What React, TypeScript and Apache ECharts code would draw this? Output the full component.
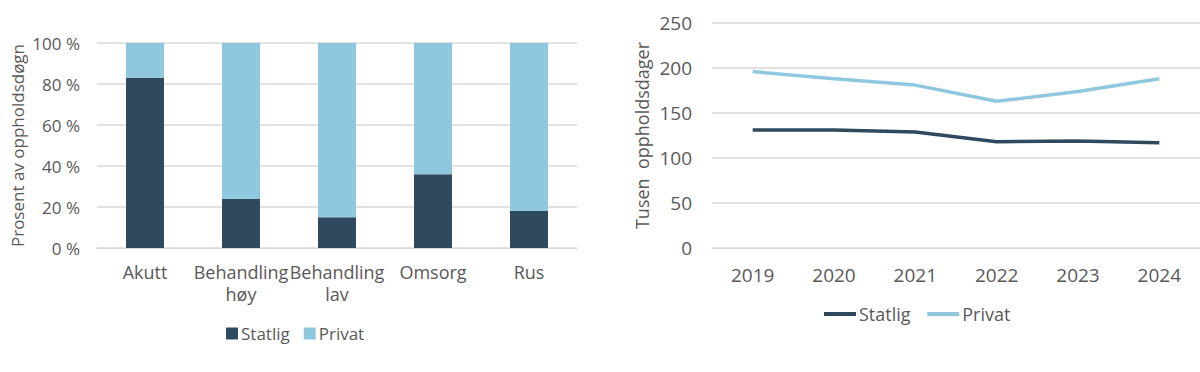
import React, { useEffect, useRef } from "react";
import * as echarts from "echarts";

const barCategories = ["Akutt", "Behandling\nhøy", "Behandling\nlav", "Omsorg", "Rus"];
const barStatlig = [83, 24, 15, 36, 18];
const barPrivat = [17, 76, 85, 64, 82];

const years = ["2019", "2020", "2021", "2022", "2023", "2024"];
const lineStatlig = [131, 131, 129, 118, 119, 117];
const linePrivat = [196, 188, 181, 163, 174, 188];

const DARK = "#2F4A5E";
const LIGHT = "#8FC8DE";
const TEXT = "#595959";
const GRID = "#D9D9D9";
const FONT = "Open Sans";

export default function App() {
  const ref = useRef<HTMLDivElement>(null);
  useEffect(() => {
    const chart = echarts.init(ref.current!, null, { renderer: "svg" });
    const lbl = (size: number) => ({ color: TEXT, fontFamily: FONT, fontSize: size });
    chart.setOption({
      animation: false,
      textStyle: { fontFamily: FONT, color: TEXT },
      grid: [
        { left: 97, right: 623, top: 43, bottom: 124 },
        { left: 712, right: -5, top: 23, bottom: 124 },
      ],
      legend: [
        {
          data: [{ name: "Statlig" }, { name: "Privat" }],
          left: 221,
          top: 320,
          itemWidth: 12,
          itemHeight: 12,
          itemGap: 14,
          icon: "rect",
          textStyle: { ...lbl(17), padding: [0, 0, 0, -2] },
          selectedMode: false,
        },
        {
          data: [{ name: "Statlig " }, { name: "Privat " }],
          left: 819,
          top: 300,
          itemWidth: 32,
          itemHeight: 4,
          itemGap: 12,
          icon: "rect",
          textStyle: { ...lbl(18), padding: [0, 0, 0, -2] },
          selectedMode: false,
        },
      ],
      xAxis: [
        {
          type: "category",
          gridIndex: 0,
          data: barCategories,
          axisLine: { show: true, lineStyle: { color: GRID } },
          axisTick: { show: false },
          axisLabel: { ...lbl(18), margin: 13, lineHeight: 22, interval: 0 },
        },
        {
          type: "category",
          gridIndex: 1,
          data: years,
          boundaryGap: true,
          axisLine: { show: true, lineStyle: { color: GRID } },
          axisTick: { show: false },
          axisLabel: { ...lbl(19), margin: 17 },
        },
      ],
      yAxis: [
        {
          type: "value",
          gridIndex: 0,
          min: 0,
          max: 100,
          interval: 20,
          name: "Prosent av oppholdsdøgn",
          nameLocation: "middle",
          nameGap: 71,
          nameTextStyle: lbl(17),
          axisLabel: { ...lbl(17), margin: 17, formatter: "{value} %" },
          splitLine: { lineStyle: { color: GRID, width: 1.5 } },
          axisLine: { show: false },
          axisTick: { show: false },
        },
        {
          type: "value",
          gridIndex: 1,
          min: 0,
          max: 250,
          interval: 50,
          name: "Tusen  oppholdsdager",
          nameLocation: "middle",
          nameGap: 61,
          nameTextStyle: lbl(18),
          axisLabel: { ...lbl(19), margin: 20 },
          splitLine: { lineStyle: { color: GRID, width: 1.5 } },
          axisLine: { show: false },
          axisTick: { show: false },
        },
      ],
      series: [
        {
          name: "Statlig",
          type: "bar",
          stack: "a",
          xAxisIndex: 0,
          yAxisIndex: 0,
          data: barStatlig,
          barWidth: 38,
          itemStyle: { color: DARK },
        },
        {
          name: "Privat",
          type: "bar",
          stack: "a",
          xAxisIndex: 0,
          yAxisIndex: 0,
          data: barPrivat,
          barWidth: 38,
          itemStyle: { color: LIGHT },
        },
        {
          name: "Statlig ",
          type: "line",
          xAxisIndex: 1,
          yAxisIndex: 1,
          data: lineStatlig,
          symbol: "none",
          lineStyle: { color: DARK, width: 3.5 },
          itemStyle: { color: DARK },
        },
        {
          name: "Privat ",
          type: "line",
          xAxisIndex: 1,
          yAxisIndex: 1,
          data: linePrivat,
          symbol: "none",
          lineStyle: { color: LIGHT, width: 3.5 },
          itemStyle: { color: LIGHT },
        },
      ],
    });
    return () => chart.dispose();
  }, []);
  return (
    <div
      ref={ref}
      style={{ position: "fixed", left: 0, top: 0, width: 1200, height: 372, background: "#fff" }}
    />
  );
}
